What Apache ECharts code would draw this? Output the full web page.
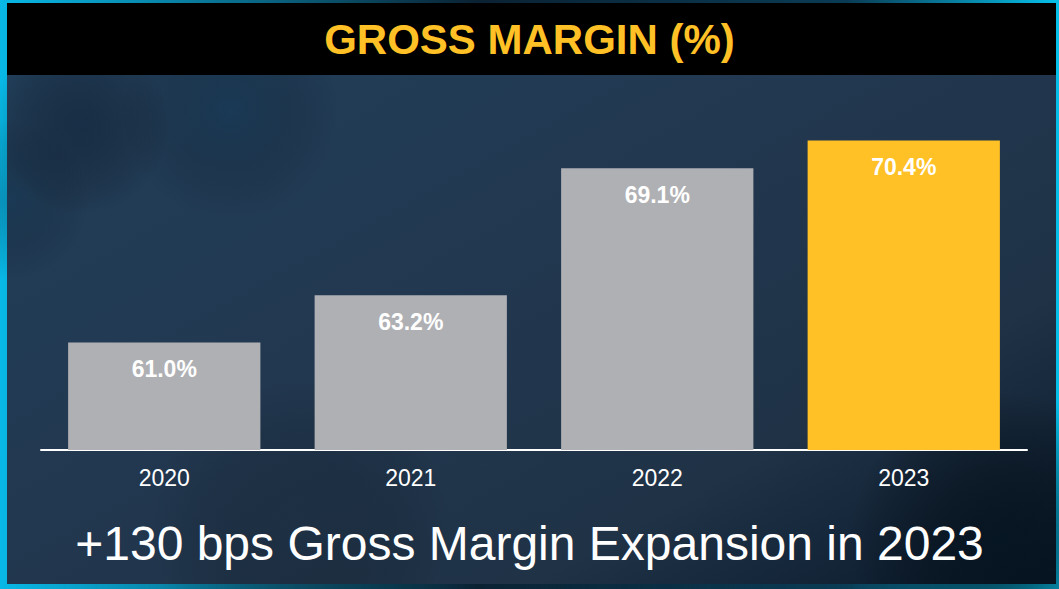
<!DOCTYPE html>
<html>
<head>
<meta charset="utf-8">
<script src="https://cdn.jsdelivr.net/npm/echarts@6/dist/echarts.min.js"></script>
<style>
  html, body { margin: 0; padding: 0; background: #0a1a28; }
  #chart { width: 1059px; height: 589px; }
</style>
</head>
<body>
<div id="chart"></div>
<script>
// chart values
var years = ['2020', '2021', '2022', '2023'];
var grossMargin = [61.0, 63.2, 69.1, 70.4];
var chartTitle = 'GROSS MARGIN (%)';
var footnote = '+130 bps Gross Margin Expansion in 2023';

var FONT = '"Liberation Sans", Arial, sans-serif';
var GRAY = '#afb0b4';
var GOLD = '#ffc125';

var chart = echarts.init(document.getElementById('chart'), null, { renderer: 'svg' });

// soft blurry background blob (the photo behind the slide)
function blob(cx, cy, r, color) {
  return {
    type: 'circle', z: -8, silent: true,
    shape: { cx: cx, cy: cy, r: r },
    style: {
      fill: new echarts.graphic.RadialGradient(0.5, 0.5, 0.5, [
        { offset: 0, color: color },
        { offset: 1, color: 'rgba(0,0,0,0)' }
      ])
    }
  };
}

var option = {
  animation: false,
  graphic: [
    // frame (cyan border)
    { type: 'rect', z: -10, silent: true, shape: { x: 0, y: 0, width: 1059, height: 589 },
      style: { fill: new echarts.graphic.LinearGradient(0, 0, 1, 0, [
        { offset: 0, color: '#08b8e6' }, { offset: 0.45, color: '#0b2233' },
        { offset: 0.8, color: '#0a3c55' }, { offset: 1, color: '#06c0ea' }]) } },
    // inner background
    { type: 'rect', z: -9, silent: true, shape: { x: 7, y: 3, width: 1049, height: 581 },
      style: { fill: new echarts.graphic.LinearGradient(0, 0, 1, 1, [
        { offset: 0, color: '#22405c' }, { offset: 0.45, color: '#223850' },
        { offset: 0.75, color: '#1f3246' }, { offset: 1, color: '#08182a' }]) } },
    blob(80, 125, 90, 'rgba(12,28,48,0.45)'),
    blob(230, 110, 110, 'rgba(10,52,84,0.35)'),
    blob(10, 200, 80, 'rgba(10,50,80,0.3)'),
    blob(1000, 540, 150, 'rgba(4,18,30,0.7)'),
    blob(300, 530, 150, 'rgba(26,40,56,0.35)'),
    // header band
    { type: 'rect', z: -5, silent: true, shape: { x: 7, y: 3, width: 1049, height: 72 },
      style: { fill: '#000' } },
    { type: 'text', z: 5, left: 'center', top: 18,
      style: { text: chartTitle, fill: GOLD, font: 'bold 42px ' + FONT } },
    { type: 'text', z: 5, left: 'center', top: 519,
      style: { text: footnote, fill: '#fff', font: '48px ' + FONT } }
  ],
  grid: { left: 41, right: 32, top: 106, bottom: 139 },
  xAxis: {
    type: 'category',
    data: years,
    axisLine: { lineStyle: { color: '#ffffff', width: 2 } },
    axisTick: { show: false },
    axisLabel: { color: '#ffffff', fontSize: 23, fontFamily: FONT, margin: 16 }
  },
  yAxis: {
    type: 'value',
    min: 56,
    max: 72,
    show: false,
    splitLine: { show: false }
  },
  series: [{
    type: 'bar',
    data: grossMargin,
    barCategoryGap: '22%',
    itemStyle: {
      color: function (p) { return p.dataIndex === years.length - 1 ? GOLD : GRAY; }
    },
    label: {
      show: true,
      position: 'insideTop',
      distance: 15,
      color: '#ffffff',
      fontSize: 23,
      fontWeight: 'bold',
      fontFamily: FONT,
      formatter: function (p) { return p.value.toFixed(1) + '%'; }
    }
  }]
};

chart.setOption(option);
</script>
</body>
</html>
